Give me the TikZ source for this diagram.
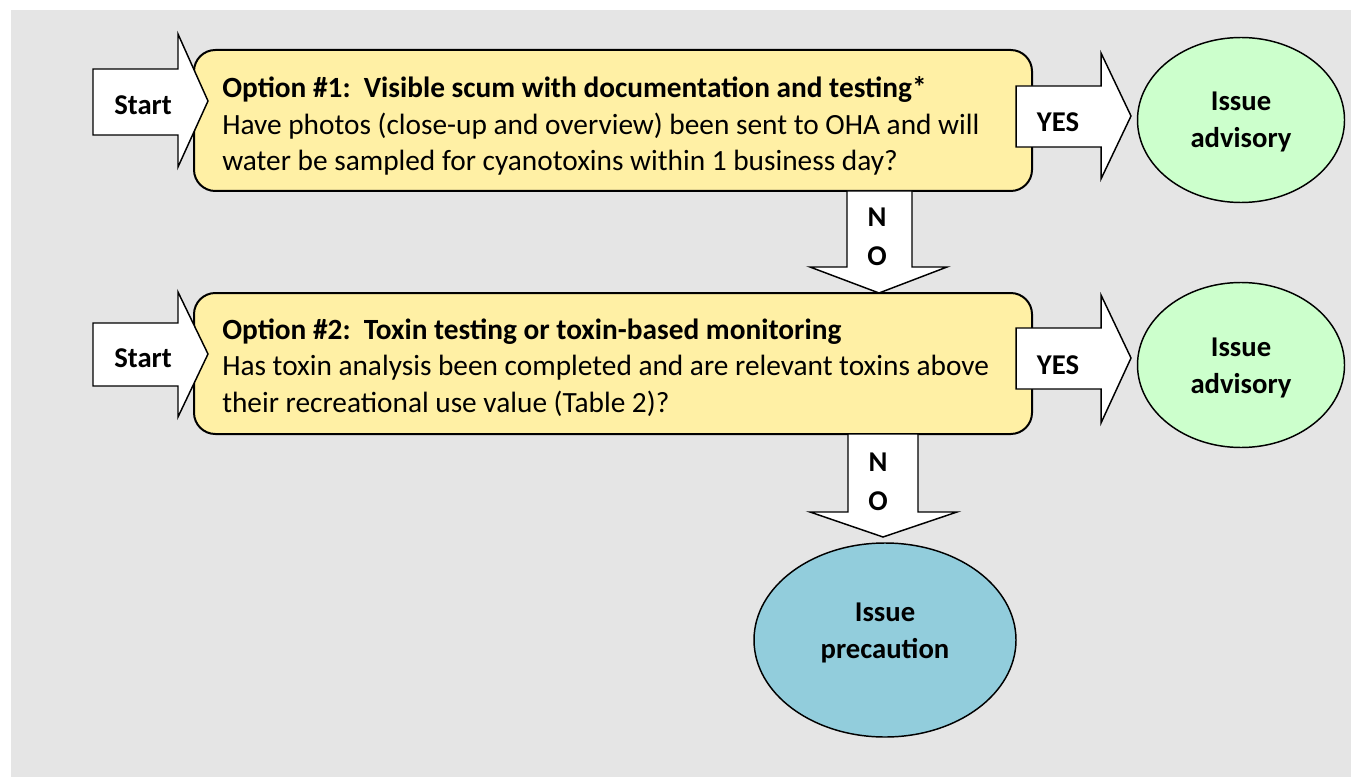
\documentclass[tikz,border=0pt]{standalone}
\usepackage{fontspec}
\setmainfont{Carlito}
\usetikzlibrary{shapes.geometric}
\definecolor{bgray}{HTML}{E5E5E5}
\definecolor{qyellow}{HTML}{FFF0A5}
\definecolor{agreen}{HTML}{CCFFCC}
\definecolor{pblue}{HTML}{92CDDC}
\begin{document}
\begin{tikzpicture}[x=0.75pt,y=-0.75pt,
  qbox/.style={draw, line width=1.5pt, fill=qyellow, rounded corners=16pt,
    minimum width=628.5pt, minimum height=105.75pt, inner sep=0pt},
  qtext/.style={anchor=west, text width=600pt, align=flush left, inner sep=0pt,
    font=\fontsize{22}{27.4}\selectfont},
  ell/.style={ellipse, draw, line width=1.1pt, inner sep=0pt},
  barrow/.style={draw, fill=white, line width=1.1pt, line join=miter},
  lbl/.style={font=\bfseries\fontsize{21.5}{27.4}\selectfont, align=center, inner sep=0pt}
]
\useasboundingbox (0,0) rectangle (1351,777);
\fill[bgray] (11,10) rectangle (1351,777);

% question boxes
\node[qbox] (box1) at (613,120.5) {};
\node[qtext] (box1t) at (222,126) {\textbf{Option \#1:\ \ Visible scum with documentation and testing*}\\
Have photos (close-up and overview) been sent to OHA and will\\
water be sampled for cyanotoxins within 1 business day?};
\node[qbox] (box2) at (613,363.5) {};
\node[qtext] (box2t) at (222,367.5) {\textbf{Option \#2:\ \ Toxin testing or toxin-based monitoring}\\
Has toxin analysis been completed and are relevant toxins above\\
their recreational use value (Table 2)?};

% outcome ellipses
\node[ell, fill=agreen, minimum width=155.25pt, minimum height=123.75pt] (adv1) at (1241,120) {};
\node[ell, fill=agreen, minimum width=155.25pt, minimum height=123.75pt] (adv2) at (1241,365) {};
\node[ell, fill=pblue, minimum width=196.5pt, minimum height=145.5pt] (prec) at (885,640) {};
\node[lbl] (adv1t) at (1241,122) {Issue\\advisory};
\node[lbl] (adv2t) at (1241,368) {Issue\\advisory};
\node[lbl] (prect) at (885,633) {Issue\\precaution};

% start arrows
\draw[barrow] (93,69) -- (178,69) -- (178,34) -- (208,101) -- (178,167) -- (178,135) -- (93,135) -- cycle;
\draw[barrow] (93,323) -- (178,323) -- (178,292) -- (208,354) -- (178,417) -- (178,386) -- (93,386) -- cycle;
\node[lbl] (start1) at (143,105) {Start};
\node[lbl] (start2) at (143,358) {Start};

% yes arrows
\draw[barrow] (1016,86) -- (1101,86) -- (1101,53) -- (1131,116) -- (1101,179) -- (1101,147) -- (1016,147) -- cycle;
\draw[barrow] (1016,328) -- (1101,328) -- (1101,295) -- (1131,358) -- (1101,423) -- (1101,389) -- (1016,389) -- cycle;
\node[lbl] (yes1) at (1058,122) {YES};
\node[lbl] (yes2) at (1058,365) {YES};

% no arrows
\draw[barrow] (847,191) -- (912,191) -- (912,267) -- (947,267) -- (879,293) -- (810,267) -- (847,267) -- cycle;
\draw[barrow] (848,434) -- (918,434) -- (918,512) -- (957,512) -- (883,537) -- (810,512) -- (848,512) -- cycle;
\node[lbl] (no1) at (877,237) {N\\[2pt]O};
\node[lbl] (no2) at (878,482) {N\\[2pt]O};
\end{tikzpicture}
\end{document}
